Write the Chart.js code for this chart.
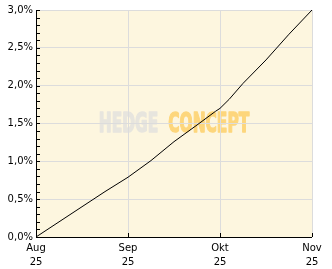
<!DOCTYPE html>
<html>
<head>
<meta charset="utf-8">
<script src="https://cdn.jsdelivr.net/npm/chart.js@4/dist/chart.umd.min.js"></script>
<style>
  html, body { margin: 0; padding: 0; background: #ffffff; }
  #wrap { width: 332px; height: 269px; }
</style>
</head>
<body>
<div id="wrap"><canvas id="chart"></canvas></div>
<script>
// month labels (two lines each)
const monthLabels = [["Aug", "25"], ["Sep", "25"], ["Okt", "25"], ["Nov", "25"]];
// positions in months since start of Aug 25
const pointMonths = [0, 0.25, 0.5, 0.75, 1, 1.25, 1.5, 1.75, 1.95, 2, 2.1, 2.25, 2.5, 2.75, 3];
// cumulative performance in %
const perfValues = [0, 0.20, 0.40, 0.60, 0.79, 1.01, 1.26, 1.48, 1.66, 1.70, 1.82, 2.03, 2.34, 2.68, 3.0];
const yMajorStep = 0.5;
const yMinorStep = 0.1;
const yMax = 3.0;

const fmtPct = v => v.toFixed(1).replace(".", ",") + "%";

// cream plot background + watermark, below grid
const backdrop = {
    id: "backdrop",
    beforeDraw(chart) {
        const {ctx, chartArea: a} = chart;
        ctx.save();
        ctx.fillStyle = "#fdf6df";
        ctx.fillRect(a.left, a.top, a.right - a.left, a.bottom - a.top);

        ctx.font = "bold 27px 'DejaVu Sans'";
        ctx.textBaseline = "middle";
        const w1 = ctx.measureText("HEDGE").width;
        const w2 = ctx.measureText("CONCEPT").width;
        const target = (a.right - a.left) * 0.545;
        const gap = 10;
        const sx = (target - gap) / (w1 + w2);
        const cx = (a.left + a.right) / 2;
        const cy = (a.top + a.bottom) / 2 + 1;
        ctx.translate(cx - target / 2, cy);
        ctx.scale(sx, 1);
        ctx.lineWidth = 1.6;
        ctx.lineJoin = "round";
        ctx.fillStyle = ctx.strokeStyle = "#e7e5de";
        ctx.fillText("HEDGE", 0, 0);
        ctx.strokeText("HEDGE", 0, 0);
        ctx.fillStyle = ctx.strokeStyle = "#fdd67c";
        ctx.fillText("CONCEPT", w1 + gap / sx, 0);
        ctx.strokeText("CONCEPT", w1 + gap / sx, 0);
        ctx.restore();
    }
};

// short inward tick marks on both axes
const innerTicks = {
    id: "innerTicks",
    afterDraw(chart) {
        const {ctx, chartArea: a, scales} = chart;
        ctx.save();
        ctx.strokeStyle = "#000";
        ctx.lineWidth = 1;
        ctx.beginPath();
        for (let v = 0; v <= yMax + 1e-9; v += yMinorStep) {
            const y = Math.round(scales.y.getPixelForValue(v)) + 0.5;
            ctx.moveTo(a.left, y);
            ctx.lineTo(a.left + 4, y);
        }
        for (let i = 0; i < monthLabels.length; i++) {
            const x = Math.round(scales.x.getPixelForValue(i)) + 0.5;
            ctx.moveTo(x, a.bottom);
            ctx.lineTo(x, a.bottom - 4);
        }
        // axis lines
        ctx.moveTo(a.left + 0.5, a.top);
        ctx.lineTo(a.left + 0.5, a.bottom + 0.5);
        ctx.lineTo(a.right, a.bottom + 0.5);
        ctx.stroke();
        ctx.restore();
    }
};

const ctx = document.getElementById("chart").getContext("2d");
const data = {
    datasets: [{
        label: "Performance",
        data: pointMonths.map((m, i) => ({x: m, y: perfValues[i]})),
        borderColor: "#000000",
        borderWidth: 1,
        pointRadius: 0,
        tension: 0,
        fill: false
    }]
};

const options = {
    responsive: true,
    maintainAspectRatio: false,
    animation: false,
    layout: {
        autoPadding: false,
        padding: {left: 0, right: 20, top: 10, bottom: 0}
    },
    plugins: {
        legend: {display: false},
        tooltip: {enabled: false}
    },
    scales: {
        x: {
            type: "linear",
            min: 0,
            max: monthLabels.length - 1,
            grid: {color: "#dcdcdc", drawTicks: false},
            border: {display: false},
            afterFit: s => { s.height = 32; },
            ticks: {
                stepSize: 1,
                padding: 4,
                autoSkip: false,
                maxRotation: 0,
                color: "#000",
                font: {family: "DejaVu Sans", size: 10, lineHeight: 1.4},
                callback: v => monthLabels[v]
            }
        },
        y: {
            min: 0,
            max: yMax,
            grid: {color: "#dcdcdc", drawTicks: false},
            border: {display: false},
            afterFit: s => { s.width = 36; },
            ticks: {
                stepSize: yMajorStep,
                padding: 3,
                color: "#000",
                font: {family: "DejaVu Sans", size: 10},
                callback: v => fmtPct(v)
            }
        }
    }
};

new Chart(ctx, {
    type: "line",
    data: data,
    options: options,
    plugins: [backdrop, innerTicks]
});
</script>
</body>
</html>
